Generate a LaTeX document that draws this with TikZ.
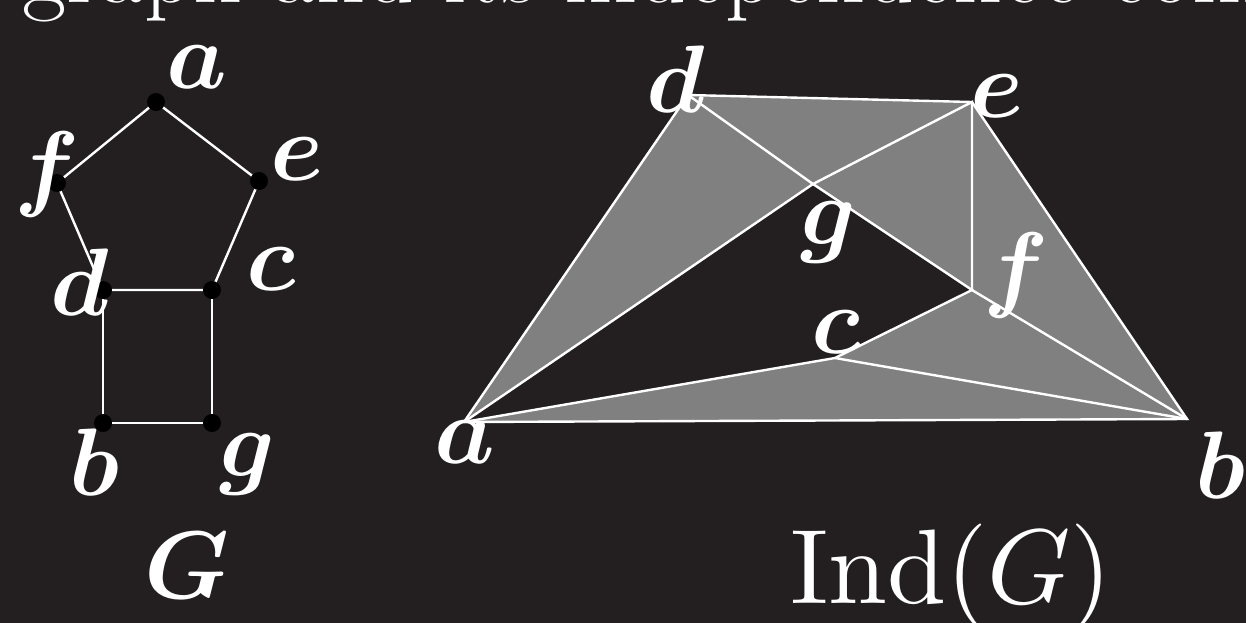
\RequirePackage{fix-cm}
\documentclass[tikz,border=0pt]{standalone}
\usepackage{bm}
\definecolor{board}{HTML}{231F20}
\definecolor{face}{HTML}{808080}
\font\indrm=cmr10 at 26.5pt
\font\indmi=cmmi10 at 26.5pt
\tikzset{
  edge/.style={white,line width=0.6pt},
  lbl/.style={white,anchor=base,inner sep=0pt,font=\fontsize{24}{28}\selectfont},
}
\begin{document}
\begin{tikzpicture}[x=0.25pt,y=-0.25pt]
\fill[board] (0,0) rectangle (1246,623);
\useasboundingbox (0,0) rectangle (1246,623);
\node[lbl,anchor=base west] (title) at (22,2) {graph and its independence com};
% the graph G
\coordinate (Ga) at (156,102);
\coordinate (Gf) at (57,183);
\coordinate (Ge) at (259,181);
\coordinate (Gd) at (103,290);
\coordinate (Gc) at (212,290);
\coordinate (Gb) at (103,423);
\coordinate (Gg) at (212,423);
\draw[edge] (Gf) -- (Ga) -- (Ge) -- (Gc) -- (Gd) -- (Gf);
\draw[edge] (Gd) -- (Gb) -- (Gg) -- (Gc);
\foreach \v in {Ga,Gb,Gc,Gd,Ge,Gf,Gg}
  \fill[black] (\v) circle (2.25pt);
\node[lbl] (la) at (197,88) {$\bm{a}$};
\node[lbl] (lf) at (47,198) {$\bm{f}$};
\node[lbl] (le) at (297,180) {$\bm{e}$};
\node[lbl] (lc) at (271,290) {$\bm{c}$};
\node[lbl] (ld) at (80,315) {$\bm{d}$};
\node[lbl] (lb) at (94,495) {$\bm{b}$};
\node[lbl] (lg) at (247,476) {$\bm{g}$};
\node[lbl] (lG) at (187,598) {$\bm{G}$};
% its independence complex
\coordinate (a) at (464,422);
\coordinate (b) at (1187,419);
\coordinate (c) at (835,358);
\coordinate (d) at (688,95);
\coordinate (e) at (972,102);
\coordinate (f) at (972,290);
\coordinate (g) at (813,184);
\fill[face] (a) -- (d) -- (g) -- cycle;
\fill[face] (d) -- (e) -- (g) -- cycle;
\fill[face] (e) -- (f) -- (g) -- cycle;
\fill[face] (e) -- (b) -- (f) -- cycle;
\fill[face] (c) -- (f) -- (b) -- cycle;
\fill[face] (a) -- (c) -- (b) -- cycle;
\draw[edge] (a) -- (d) -- (e) -- (b) -- (a);
\draw[edge] (a) -- (g) -- (e) -- (f) -- (b);
\draw[edge] (d) -- (g) -- (f) -- (c) -- (b);
\draw[edge] (a) -- (c);
\node[lbl] (ra) at (465,463) {$\bm{a}$};
\node[lbl] (rd) at (676,112) {$\bm{d}$};
\node[lbl] (re) at (997,117) {$\bm{e}$};
\node[lbl] (rg) at (828,244) {$\bm{g}$};
\node[lbl] (rf) at (1016,299) {$\bm{f}$};
\node[lbl] (rc) at (836,353) {$\bm{c}$};
\node[lbl] (rb) at (1220,498) {$\bm{b}$};
\node[lbl] (ind) at (951,603) {{\indrm Ind(}{\indmi G\/}{\indrm )}};
\end{tikzpicture}
\end{document}
